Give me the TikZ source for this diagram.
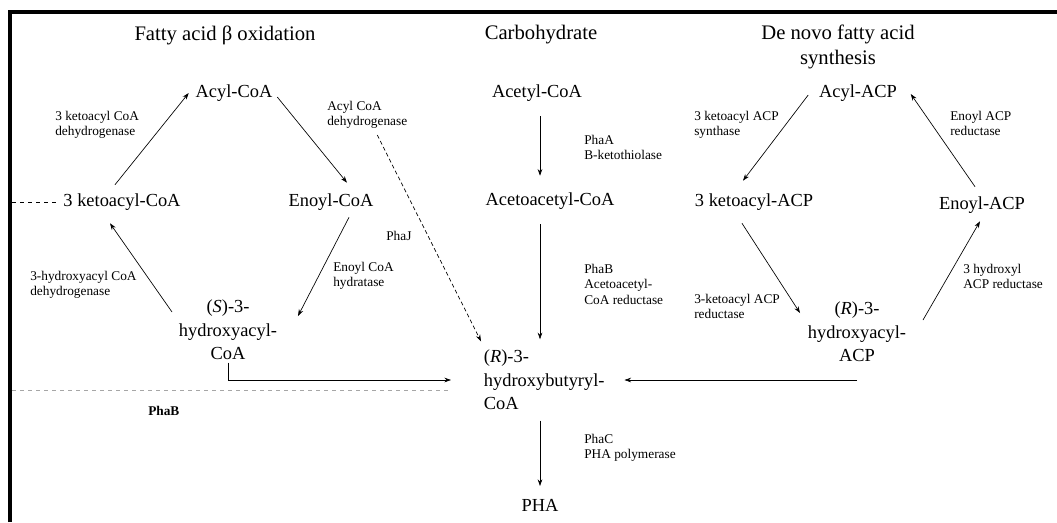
\documentclass[tikz,border=0pt]{standalone}
\usepackage{fontspec}
\setmainfont{Liberation Serif}
\usetikzlibrary{arrows.meta}

\begin{document}
\begin{tikzpicture}[x=0.75pt,y=-0.75pt,
	head/.style={font=\fontsize{15.5}{19}\selectfont,align=center},
	metab/.style={font=\fontsize{13.8}{17.5}\selectfont,align=center,inner sep=2pt},
	enz/.style={font=\fontsize{10}{11.5}\selectfont,align=left,anchor=north west,inner sep=0pt},
	conv/.style={-{Stealth[length=5pt,width=3.5pt]},line width=0.5pt},
	conn/.style={line width=0.5pt}]

\useasboundingbox (0,0) rectangle (1057,522);
\draw[line width=3pt] (10,522) -- (10,12) -- (1057,12);

% titles
\node[head] (fao) at (225,35) {Fatty acid β oxidation};
\node[head] (carb) at (541,35) {Carbohydrate};
\node[head] (denovo) at (838,47) {De novo fatty acid\\synthesis};

% beta oxidation cycle
\node[metab] (acylcoa) at (234,93) {Acyl-CoA};
\node[metab] (ketocoa) at (122,202) {3 ketoacyl-CoA};
\node[metab] (enoylcoa) at (331,202) {Enoyl-CoA};
\node[metab] (hydroxycoa) at (228,330) {(\textit{S})-3-\\hydroxyacyl-\\CoA};

\node[enz] (e1) at (55,111) {3 ketoacyl CoA\\dehydrogenase};
\node[enz] (e2) at (327,101) {Acyl CoA\\dehydrogenase};
\node[enz] (e3) at (333,262) {Enoyl CoA\\hydratase};
\node[enz] (e4) at (30,271) {3-hydroxyacyl CoA\\dehydrogenase};
\node[enz] (phaj) at (386,231) {PhaJ};
\node[enz,font=\fontsize{10}{11.5}\selectfont\bfseries] (phab) at (148,406) {PhaB};

\draw[conv] ([shift={(-7,-6)}]ketocoa.north) -- ([shift={(-4,0)}]acylcoa.west);
\draw[conv] ([shift={(2,4)}]acylcoa.east) -- ([shift={(16,-8)}]enoylcoa.north);
\draw[conv] ([shift={(18,4)}]enoylcoa.south) -- ([shift={(18,-14)}]hydroxycoa.east);
\draw[conv] ([shift={(-4,-18)}]hydroxycoa.west) -- ([shift={(-12,10)}]ketocoa.south);

\coordinate (edgeA) at (12,202);
\draw[conn,dashed] ([shift={(-5,0)}]ketocoa.west) -- (edgeA);

% carbohydrate route
\node[metab] (acetylcoa) at (537,93) {Acetyl-CoA};
\node[metab] (acetoacetyl) at (550,201) {Acetoacetyl-CoA};
\node[metab,align=left,anchor=west] (rhb) at (481,380) {(\textit{R})-3-\\hydroxybutyryl-\\CoA};
\node[metab] (pha) at (540,505) {PHA};

\node[enz] (ca) at (584,135) {PhaA\\B-ketothiolase};
\node[enz] (cb) at (584,264) {PhaB\\Acetoacetyl-\\CoA reductase};
\node[enz] (cc) at (584,434) {PhaC\\PHA polymerase};

\draw[conv] ([shift={(0,12)}]acetylcoa.south -| pha) -- ([shift={(0,-14)}]acetoacetyl.north -| pha);
\draw[conv] ([shift={(0,12)}]acetoacetyl.south -| pha) -- ([shift={(0,-8)}]rhb.north -| pha);
\draw[conv] ([shift={(0,8)}]rhb.south -| pha) -- ([shift={(0,-10)}]pha.north);

\draw[conv,densely dashed] ([shift={(10,6)}]e2.south) -- ([shift={(0,-6)}]rhb.north west);
\draw[conv] (hydroxycoa.south) |- ([shift={(-30,0)}]rhb.west);
\coordinate (edgeB) at (12,390);
\draw[conn,dashed,gray!70] (edgeB) -- (450,390);

% de novo synthesis cycle
\node[metab] (acylacp) at (858,93) {Acyl-ACP};
\node[metab] (ketoacp) at (754,202) {3 ketoacyl-ACP};
\node[metab] (enoylacp) at (982,205) {Enoyl-ACP};
\node[metab] (hydroxyacp) at (857,332) {(\textit{R})-3-\\hydroxyacyl-\\ACP};

\node[enz] (r1) at (694,111) {3 ketoacyl ACP\\synthase};
\node[enz] (r2) at (950,111) {Enoyl ACP\\reductase};
\node[enz] (r3) at (694,294) {3-ketoacyl ACP\\reductase};
\node[enz] (r4) at (963,264) {3 hydroxyl\\ACP reductase};

\draw[conv] ([shift={(-8,2)}]acylacp.west) -- ([shift={(-11,-10)}]ketoacp.north);
\draw[conv] ([shift={(-12,10)}]ketoacp.south) -- ([shift={(-5,-19)}]hydroxyacp.west);
\draw[conv] ([shift={(14,-12)}]hydroxyacp.east) -- ([shift={(-2,5)}]enoylacp.south);
\draw[conv] ([shift={(-7,-7)}]enoylacp.north) -- ([shift={(11,1)}]acylacp.east);

\draw[conv] (hydroxyacp.south |- rhb.west) -- ([shift={(17,0)}]rhb.east);

\end{tikzpicture}
\end{document}
